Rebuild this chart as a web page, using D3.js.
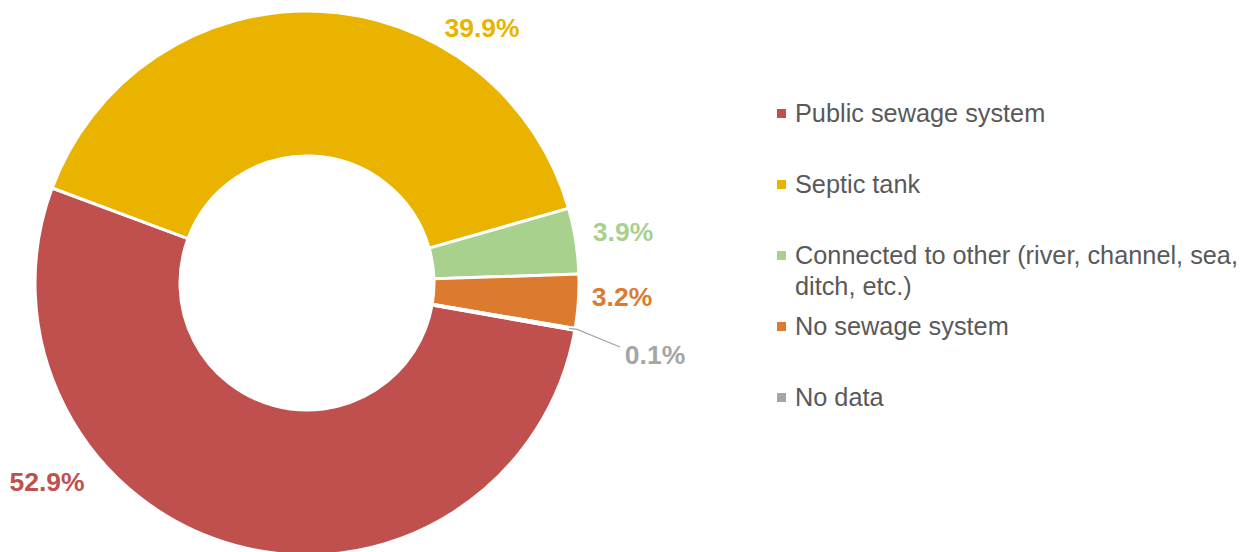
<!DOCTYPE html>
<html>
<head>
<meta charset="utf-8">
<script src="https://cdn.jsdelivr.net/npm/d3@7"></script>
<style>
  body { margin: 0; background: #fff; }
  text { font-family: "Liberation Sans", Arial, sans-serif; }
</style>
</head>
<body>
<div class="chart"></div>
<script>
var categories = ["Public sewage system", "Septic tank", "Connected to other (river, channel, sea, ditch, etc.)", "No sewage system", "No data"],
    values = [52.9, 39.9, 3.9, 3.2, 0.1],
    legendLines = [["Public sewage system"], ["Septic tank"], ["Connected to other (river, channel, sea,", "ditch, etc.)"], ["No sewage system"], ["No data"]],
    colors = ["#C0504D", "#E9B300", "#A9D18E", "#DC7B30", "#A5A5A5"];

var width = 1241,
    height = 552,
    cx = 307,
    cy = 283,
    outerR = 272,
    innerR = 127,
    startAngle = 100 * Math.PI / 180,
    // label centre offsets from donut centre, in px
    labelPos = [[-260, 199], [175, -255], [316, -51], [315, 14], [348, 72]];

var svg = d3.select(".chart").append("svg")
    .attr("width", width)
    .attr("height", height);

var pie = d3.pie()
    .sort(null)
    .value(function(d) { return d; })
    .startAngle(startAngle)
    .endAngle(startAngle + 2 * Math.PI);

var arc = d3.arc().innerRadius(innerR).outerRadius(outerR);

var g = svg.append("g").attr("transform", "translate(" + cx + "," + cy + ")");

var arcs = pie(values);

g.selectAll(".slice")
    .data(arcs)
    .enter().append("path")
    .attr("class", "slice")
    .attr("d", arc)
    .style("fill", function(d, i) { return colors[i]; })
    .style("stroke", "#fff")
    .style("stroke-width", 3);

// leader line for the tiny slice
var tiny = arcs[4],
    midA = (tiny.startAngle + tiny.endAngle) / 2,
    p0 = [Math.sin(midA) * (outerR - 6), -Math.cos(midA) * (outerR - 6)];
g.append("polyline")
    .attr("points", [p0, [p0[0] + 8, p0[1] + 1], [313, 64]].map(function(p) { return p.join(","); }).join(" "))
    .style("fill", "none")
    .style("stroke", "#A5A5A5")
    .style("stroke-width", 1.3);

g.selectAll(".label")
    .data(arcs)
    .enter().append("text")
    .attr("class", "label")
    .attr("x", function(d, i) { return labelPos[i][0]; })
    .attr("y", function(d, i) { return labelPos[i][1]; })
    .attr("dy", "0.35em")
    .attr("text-anchor", "middle")
    .style("font-size", "26.5px")
    .style("font-weight", "bold")
    .style("fill", function(d, i) { return colors[i]; })
    .text(function(d) { return d3.format(".1f")(d.data) + "%"; });

// Legend
var legend = svg.append("g").attr("transform", "translate(777,113)");

var item = legend.selectAll(".item")
    .data(categories)
    .enter().append("g")
    .attr("class", "item")
    .attr("transform", function(d, i) { return "translate(0," + (i * 71) + ")"; });

item.append("rect")
    .attr("x", 0)
    .attr("y", -4)
    .attr("width", 9)
    .attr("height", 9)
    .style("fill", function(d, i) { return colors[i]; });

item.append("text")
    .attr("x", 18)
    .attr("y", 0)
    .style("font-size", "25.3px")
    .style("fill", "#595959")
    .selectAll("tspan")
    .data(function(d, i) { return legendLines[i]; })
    .enter().append("tspan")
    .attr("x", 18)
    .attr("dy", function(d, j) { return j === 0 ? "0.35em" : "31px"; })
    .text(function(d) { return d; });
</script>
</body>
</html>
